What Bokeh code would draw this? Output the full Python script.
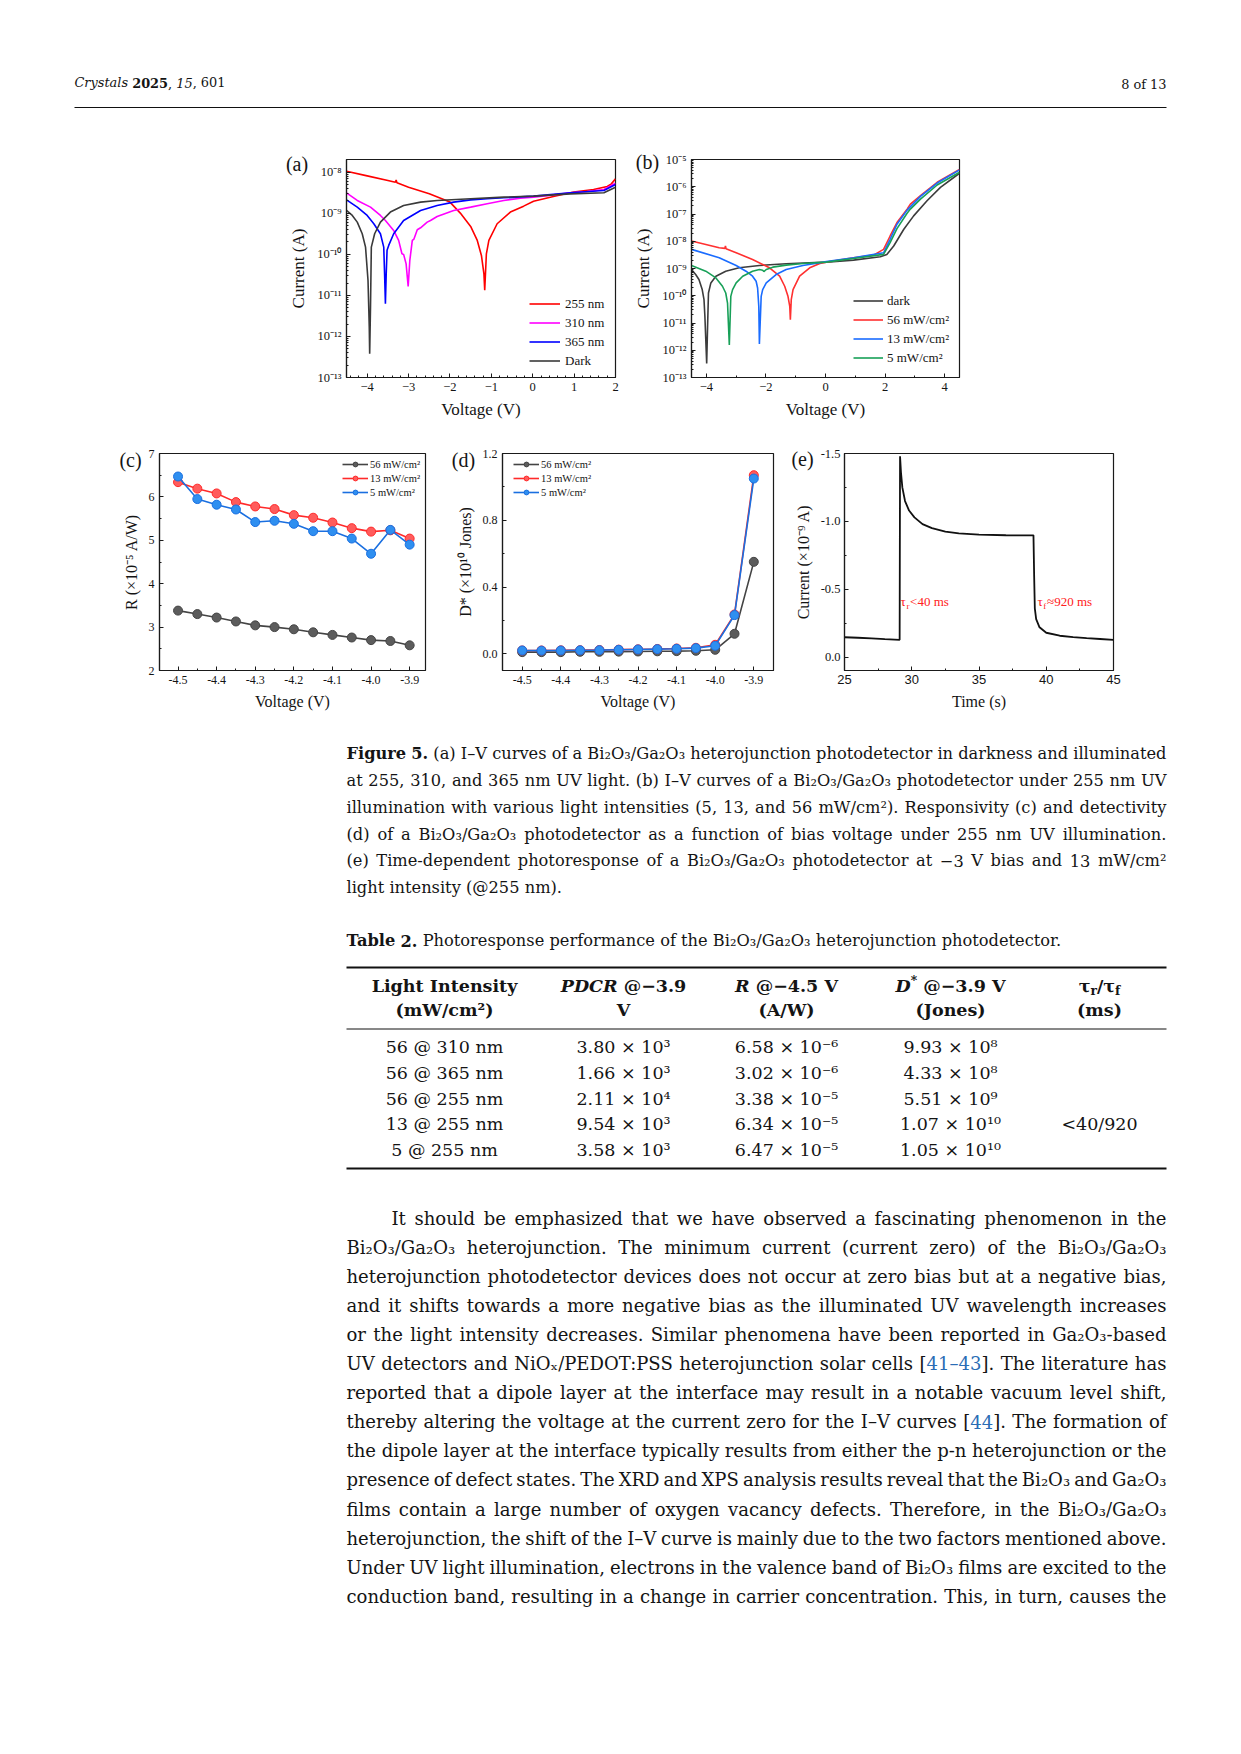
import glob, os, re, statistics
from bokeh.plotting import figure
from bokeh.models import (Range1d, FixedTicker, CustomJSTickFormatter, Legend, LegendItem,
                          Label, Spacer, ColumnDataSource, SingleIntervalTicker)
from bokeh.layouts import column, row
from bokeh.embed import file_html
from bokeh.resources import INLINE
from bokeh.core.properties import value, field

# ------------------------------------------------------------------ data
# (a) I-V curves, different wavelengths (V in volts, I in amperes)
a_v_255 = [-4.5, -4.0, -3.5, -3.32, -3.3, -3.28, -3.0, -2.5, -2.0, -1.75, -1.5, -1.34, -1.24, -1.18, -1.16,
           -1.12, -1.06, -0.86, -0.54, -0.22, 0.02, 0.5, 0.99, 1.47, 1.8, 1.9, 2.0]
a_i_255 = [1.06e-8, 8.15e-9, 6.27e-9, 5.7e-9, 6.5e-9, 5.5e-9, 4.3e-9, 2.97e-9, 1.87e-9, 1.01e-9, 4.78e-10,
           2.18e-10, 9.4e-11, 3.4e-11, 1.33e-11, 1.03e-10, 2.18e-10, 5.55e-10, 1.07e-9, 1.49e-9, 1.97e-9,
           2.56e-9, 3.3e-9, 3.8e-9, 4.5e-9, 5.2e-9, 6.9e-9]
a_v_310 = [-4.5, -4.24, -3.92, -3.68, -3.56, -3.36, -3.24, -3.16, -3.12, -3.06, -3.01, -2.97, -2.91, -2.87,
           -2.79, -2.71, -2.55, -2.47, -2.31, -1.91, -1.5, -1.1, -0.7, -0.3, 0.02, 0.5, 0.91, 1.31, 1.72, 2.0]
a_i_310 = [3.15e-9, 2.05e-9, 1.41e-9, 8.85e-10, 6.68e-10, 3.82e-10, 2.18e-10, 1.03e-10, 9.96e-11, 5.9e-11,
           1.66e-11, 7.1e-11, 2.18e-10, 2.35e-10, 3.96e-10, 4.43e-10, 6.09e-10, 6.68e-10, 8.36e-10, 1.17e-9,
           1.41e-9, 1.70e-9, 2.05e-9, 2.33e-9, 2.47e-9, 2.81e-9, 3.15e-9, 3.4e-9, 3.8e-9, 5.4e-9]
a_v_365 = [-4.5, -4.24, -4.0, -3.84, -3.68, -3.6, -3.58, -3.56, -3.54, -3.52, -3.48, -3.36, -3.12, -2.71,
           -2.31, -1.91, -1.5, -1.1, -0.7, 0.02, 0.91, 1.72, 2.0]
a_i_365 = [2.12e-9, 1.41e-9, 8.85e-10, 5.55e-10, 3.17e-10, 1.5e-10, 3.4e-11, 6.3e-12, 3.4e-11, 1.25e-10,
           1.65e-10, 3.17e-10, 6.68e-10, 1.17e-9, 1.55e-9, 1.87e-9, 2.12e-9, 2.25e-9, 2.38e-9, 2.61e-9,
           3.15e-9, 3.6e-9, 5.0e-9]
a_v_dark = [-4.5, -4.36, -4.24, -4.12, -4.04, -3.98, -3.95, -3.94, -3.92, -3.9, -3.82, -3.68, -3.44, -3.12,
            -2.71, -2.31, -1.5, -0.7, 0.02, 0.91, 1.72, 2.0]
a_i_dark = [1.17e-9, 8.85e-10, 6.09e-10, 3.17e-10, 1.5e-10, 2.3e-11, 1.7e-12, 3.8e-13, 5.2e-12, 1.5e-10,
            3.17e-10, 6.09e-10, 1.07e-9, 1.55e-9, 1.87e-9, 2.05e-9, 2.25e-9, 2.47e-9, 2.61e-9, 2.97e-9,
            3.15e-9, 4.3e-9]
a_labels = ["255 nm", "310 nm", "365 nm", "Dark"]
a_xticks = [-4, -3, -2, -1, 0, 1, 2]
a_yticks = [1e-13, 1e-12, 1e-11, 1e-10, 1e-9, 1e-8]

# (b) I-V curves, different intensities at 255 nm
b_v_dark = [-4.5, -4.36, -4.25, -4.14, -4.08, -4.05, -3.99, -3.96, -3.93, -3.85, -3.68, -3.35, -2.9, -2.22,
            -1.32, 0.03, 0.94, 1.84, 2.06, 2.29, 2.63, 2.96, 3.41, 3.86, 4.5]
b_i_dark = [9.19e-10, 6.0e-10, 3.93e-10, 1.68e-10, 7.16e-11, 1.74e-11, 3.3e-13, 7.4e-12, 1.26e-10, 2.96e-10,
            5.21e-10, 7.97e-10, 1.06e-9, 1.29e-9, 1.49e-9, 1.71e-9, 2.03e-9, 2.7e-9, 3.29e-9, 6.68e-9,
            2.75e-8, 8.55e-8, 3.06e-7, 9.5e-7, 3.13e-6]
b_v_56 = [-4.5, -3.57, -3.38, -3.36, -3.34, -3.0, -2.45, -1.88, -1.54, -1.37, -1.26, -1.2, -1.18, -1.15,
          -1.09, -0.87, -0.53, -0.19, 0.03, 0.94, 1.61, 1.95, 2.17, 2.4, 2.74, 2.85, 3.19, 3.75, 4.5]
b_i_56 = [1.02e-8, 5.8e-9, 5.47e-9, 6.68e-9, 5.3e-9, 3.79e-9, 2.15e-9, 1.06e-9, 5.21e-10, 2.23e-10, 9.5e-11,
          4.07e-11, 1.31e-11, 7.16e-11, 1.68e-10, 5.21e-10, 1.06e-9, 1.53e-9, 1.71e-9, 2.48e-9, 3.1e-9,
          5.03e-9, 1.56e-8, 4.85e-8, 1.51e-7, 2.31e-7, 4.69e-7, 1.46e-6, 4.28e-6]
b_v_13 = [-4.5, -3.57, -3.0, -2.67, -2.45, -2.33, -2.28, -2.24, -2.22, -2.16, -2.11, -1.99, -1.66, -1.32,
          -0.76, -0.19, 0.03, 0.94, 1.95, 2.17, 2.4, 2.74, 3.19, 3.75, 4.5]
b_i_13 = [5.03e-9, 2.48e-9, 1.29e-9, 7.97e-10, 5.21e-10, 3.4e-10, 1.93e-10, 4.07e-11, 1.7e-12, 9.5e-11,
          1.68e-10, 2.96e-10, 6.0e-10, 9.19e-10, 1.29e-9, 1.62e-9, 1.81e-9, 2.48e-9, 3.79e-9, 1.18e-8,
          4.22e-8, 1.39e-7, 4.43e-7, 1.37e-6, 4.15e-6]
b_v_5 = [-4.5, -4.02, -3.68, -3.46, -3.35, -3.29, -3.23, -3.18, -3.12, -3.0, -2.78, -2.45, -2.22, -2.11,
         -2.07, -1.99, -1.77, -1.32, -0.76, 0.03, 0.94, 1.95, 2.17, 2.4, 2.74, 2.85, 3.19, 3.75, 4.5]
b_i_5 = [1.29e-9, 7.97e-10, 4.52e-10, 2.23e-10, 1.26e-10, 5.4e-11, 1.56e-12, 9.5e-11, 1.68e-10, 2.96e-10,
         5.21e-10, 7.97e-10, 9.19e-10, 8.68e-10, 7.75e-10, 9.19e-10, 1.12e-9, 1.33e-9, 1.53e-9, 1.71e-9,
         2.34e-9, 3.29e-9, 8.87e-9, 2.92e-8, 1.07e-7, 1.51e-7, 3.53e-7, 1.16e-6, 3.4e-6]
b_labels = ["dark", "56 mW/cm²", "13 mW/cm²", "5 mW/cm²"]
b_xticks = [-4, -2, 0, 2, 4]
b_yticks = [1e-13, 1e-12, 1e-11, 1e-10, 1e-9, 1e-8, 1e-7, 1e-6, 1e-5]

# (c) responsivity (x1e-5 A/W) and (d) detectivity (x1e10 Jones)
cd_v = [-4.5, -4.45, -4.4, -4.35, -4.3, -4.25, -4.2, -4.15, -4.1, -4.05, -4.0, -3.95, -3.9]
c_r56 = [3.38, 3.30, 3.22, 3.13, 3.04, 3.00, 2.95, 2.88, 2.82, 2.76, 2.70, 2.68, 2.58]
c_r13 = [6.34, 6.19, 6.08, 5.88, 5.78, 5.72, 5.58, 5.52, 5.41, 5.28, 5.20, 5.23, 5.04]
c_r5 = [6.47, 5.95, 5.82, 5.71, 5.42, 5.45, 5.38, 5.21, 5.21, 5.04, 4.69, 5.24, 4.90]
d_56 = [0.010, 0.010, 0.010, 0.012, 0.012, 0.013, 0.014, 0.015, 0.016, 0.018, 0.024, 0.12, 0.551]
d_13 = [0.020, 0.020, 0.021, 0.022, 0.023, 0.025, 0.027, 0.029, 0.032, 0.036, 0.054, 0.236, 1.07]
d_5 = [0.020, 0.019, 0.020, 0.021, 0.022, 0.024, 0.026, 0.028, 0.030, 0.034, 0.048, 0.232, 1.05]
cd_labels = ["56 mW/cm²", "13 mW/cm²", "5 mW/cm²"]
cd_xticks = [-4.5, -4.4, -4.3, -4.2, -4.1, -4.0, -3.9]
c_yticks = [2, 3, 4, 5, 6, 7]
d_yticks = [0.0, 0.4, 0.8, 1.2]

# (e) time-dependent photoresponse (x1e-9 A)
e_t = [25.0, 26.0, 27.0, 28.0, 29.1, 29.13, 29.2, 29.3, 29.5, 29.8, 30.2, 30.8, 31.5, 32.5, 33.5, 35.0,
       37.0, 39.05, 39.1, 39.15, 39.25, 39.5, 40.0, 41.0, 42.0, 43.0, 44.0, 45.0]
e_i = [-0.147, -0.143, -0.138, -0.133, -0.128, -1.48, -1.36, -1.25, -1.15, -1.08, -1.03, -0.98, -0.95,
       -0.925, -0.912, -0.903, -0.898, -0.897, -0.60, -0.36, -0.28, -0.22, -0.18, -0.158, -0.148, -0.14,
       -0.134, -0.128]

# Table 2
table_intensity = ["56 @ 310 nm", "56 @ 365 nm", "56 @ 255 nm", "13 @ 255 nm", "5 @ 255 nm"]
table_pdcr = ["3.80 × 10³", "1.66 × 10³", "2.11 × 10⁴", "9.54 × 10³", "3.58 × 10³"]
table_r = ["6.58 × 10⁻⁶", "3.02 × 10⁻⁶", "3.38 × 10⁻⁵", "6.34 × 10⁻⁵", "6.47 × 10⁻⁵"]
table_d = ["9.93 × 10⁸", "4.33 × 10⁸", "5.51 × 10⁹", "1.07 × 10¹⁰", "1.05 × 10¹⁰"]
table_tau = ["", "", "", "<40/920", ""]

caption_lines = [
    "**Figure** **5.** (a) I–V curves of a Bi₂O₃/Ga₂O₃ heterojunction photodetector in darkness and illuminated",
    "at 255, 310, and 365 nm UV light. (b) I–V curves of a Bi₂O₃/Ga₂O₃ photodetector under 255 nm UV",
    "illumination with various light intensities (5, 13, and 56 mW/cm²). Responsivity (c) and detectivity",
    "(d) of a Bi₂O₃/Ga₂O₃ photodetector as a function of bias voltage under 255 nm UV illumination.",
    "(e) Time-dependent photoresponse of a Bi₂O₃/Ga₂O₃ photodetector at −3 V bias and 13 mW/cm²",
    "light intensity (@255 nm).",
]
table_caption = "**Table** **2.** Photoresponse performance of the Bi₂O₃/Ga₂O₃ heterojunction photodetector."
body_lines = [
    "It should be emphasized that we have observed a fascinating phenomenon in the",
    "Bi₂O₃/Ga₂O₃ heterojunction. The minimum current (current zero) of the Bi₂O₃/Ga₂O₃",
    "heterojunction photodetector devices does not occur at zero bias but at a negative bias,",
    "and it shifts towards a more negative bias as the illuminated UV wavelength increases",
    "or the light intensity decreases. Similar phenomena have been reported in Ga₂O₃-based",
    "UV detectors and NiOₓ/PEDOT:PSS heterojunction solar cells [@@41–43@@]. The literature has",
    "reported that a dipole layer at the interface may result in a notable vacuum level shift,",
    "thereby altering the voltage at the current zero for the I–V curves [@@44@@]. The formation of",
    "the dipole layer at the interface typically results from either the p-n heterojunction or the",
    "presence of defect states. The XRD and XPS analysis results reveal that the Bi₂O₃ and Ga₂O₃",
    "films contain a large number of oxygen vacancy defects. Therefore, in the Bi₂O₃/Ga₂O₃",
    "heterojunction, the shift of the I–V curve is mainly due to the two factors mentioned above.",
    "Under UV light illumination, electrons in the valence band of Bi₂O₃ films are excited to the",
    "conduction band, resulting in a change in carrier concentration. This, in turn, causes the",
]

# ------------------------------------------------------------------ styles
INK = "#141414"
LINK = "#2a6db5"
SERIF = "Liberation Serif"
PAGE_FONT = "DejaVu Serif"

# ------------------------------------------------------------------ text measurement
try:
    from PIL import ImageFont
except Exception:
    ImageFont = None

FONT_FILES = {"normal": "DejaVuSerif.ttf", "bold": "DejaVuSerif-Bold.ttf",
              "italic": "DejaVuSerif-Italic.ttf", "bold italic": "DejaVuSerif-BoldItalic.ttf",
              "lib": "LiberationSerif-Regular.ttf"}
_fonts = {}


def _find(name):
    for d in ["/usr/share/fonts", "/usr/local/share/fonts", os.path.expanduser("~/.fonts"),
              os.path.expanduser("~/.local/share/fonts")]:
        try:
            hits = glob.glob(os.path.join(d, "**", name), recursive=True)
        except Exception:
            hits = []
        if hits:
            return hits[0]
    return None


def measure(text, style, size):
    if not text:
        return 0.0
    if ImageFont is not None:
        if style not in _fonts:
            path = _find(FONT_FILES[style])
            try:
                _fonts[style] = ImageFont.truetype(path, 100) if path else None
            except Exception:
                _fonts[style] = None
        f = _fonts[style]
        if f is not None:
            try:
                return f.getlength(text) * size / 100.0
            except Exception:
                pass
    k = 0.5 if style == "lib" else 0.56
    return len(text) * k * size * (1.08 if "bold" in style else 1.0)


class Sink:
    def __init__(self):
        self.d = dict(x=[], y=[], text=[], style=[], color=[], size=[])

    def add(self, x, y, text, style, color, size):
        self.d["x"].append(x)
        self.d["y"].append(y)
        self.d["text"].append(text)
        self.d["style"].append(style)
        self.d["color"].append(color)
        self.d["size"].append("%.2fpx" % size)


def seg(text, style="normal", color=INK, scale=1.0, dy=0.0):
    return (text, style, color, scale, dy)


def parse_word(word):
    out = []
    for part in re.split(r"(\*\*.+?\*\*|@@.+?@@)", word):
        if not part:
            continue
        if part.startswith("**"):
            out.append(seg(part[2:-2], "bold"))
        elif part.startswith("@@"):
            out.append(seg(part[2:-2], "normal", LINK))
        else:
            out.append(seg(part))
    return out


def seg_width(segs, fs):
    return sum(measure(s[0], s[1], fs * s[3]) for s in segs)


def draw_segments(sink, segs, x, y, fs):
    # leading / trailing spaces are turned into advances (SVG text trims them)
    for (t, st, col, sc, dy) in segs:
        core = t.lstrip(" ")
        x += measure(t[:len(t) - len(core)], st, fs * sc)
        shown = core.rstrip(" ")
        if shown:
            sink.add(x, y + dy * fs, shown, st, col, fs * sc)
        x += measure(core, st, fs * sc)
    return x


def natural_width(line, fs):
    words = [parse_word(w) for w in line.split(" ") if w]
    return sum(seg_width(w, fs) for w in words) + (len(words) - 1) * measure(" ", "normal", fs)


def set_line(sink, line, x0, x1, y, fs, justify):
    words = [parse_word(w) for w in line.split(" ") if w]
    widths = [seg_width(w, fs) for w in words]
    sp = measure(" ", "normal", fs)
    if justify and len(words) > 1:
        gap = (x1 - x0 - sum(widths)) / (len(words) - 1)
    else:
        gap = sp
    x = x0
    for w, wd in zip(words, widths):
        draw_segments(sink, w, x, y, fs)
        x += wd + gap


def fit_size(lines_w, lo, hi):
    ratios = [w / natural_width(l, 1.0) for l, w in lines_w]
    return max(lo, min(hi, statistics.median(ratios) * 0.985))


def canvas(w, h, x0, y0):
    p = figure(width=w, height=h, x_range=Range1d(x0, x0 + w), y_range=Range1d(y0 + h, y0),
               output_backend="svg", toolbar_location=None, x_axis_location=None, y_axis_location=None,
               min_border_left=0, min_border_right=0, min_border_top=0, min_border_bottom=0)
    p.grid.visible = False
    p.outline_line_color = None
    p.background_fill_color = "white"
    p.border_fill_color = "white"
    return p


def flush(p, sink):
    src = ColumnDataSource(sink.d)
    p.text(x="x", y="y", text="text", source=src, text_font=value(PAGE_FONT),
           text_font_style=field("style"), text_color=field("color"), text_font_size=field("size"),
           text_align="left", text_baseline="middle")


# ------------------------------------------------------------------ chart helpers
LOG_FMT = CustomJSTickFormatter(code="""
const sup = {'-':'\u207b','0':'\u2070','1':'\u00b9','2':'\u00b2','3':'\u00b3','4':'\u2074','5':'\u2075','6':'\u2076','7':'\u2077','8':'\u2078','9':'\u2079'};
const e = Math.round(Math.log10(tick));
return '10' + String(e).split('').map(c => sup[c]).join('');
""")
MINUS_FMT = CustomJSTickFormatter(code="return tick < 0 ? '\u2212' + Math.abs(tick) : String(tick);")


def fixed_fmt(n):
    return CustomJSTickFormatter(code="return tick.toFixed(%d);" % n)


def minor_between(majors, n_sub, lo, hi):
    """minor tick positions: n_sub subdivisions between consecutive majors, extended to the range"""
    step = (majors[1] - majors[0]) / n_sub
    out = []
    k0 = int((lo - majors[0]) / step) - 1
    k1 = int((hi - majors[0]) / step) + 1
    for k in range(k0, k1 + 1):
        v = round(majors[0] + k * step, 6)
        if lo <= v <= hi and k % n_sub != 0:
            out.append(v)
    return out


def log_minor(lo_exp, hi_exp, top):
    return [m * 10.0 ** e for e in range(lo_exp, hi_exp + 1) for m in range(2, 10) if m * 10.0 ** e <= top]


def chart(w, h, ml, mr, mt, mb, xr, yr, ylog=False):
    p = figure(width=w, height=h, x_range=xr, y_range=yr, y_axis_type=("log" if ylog else "linear"),
               output_backend="svg", toolbar_location=None,
               min_border_left=ml, min_border_right=mr, min_border_top=mt, min_border_bottom=mb)
    p.grid.visible = False
    p.outline_line_color = "#1a1a1a"
    p.outline_line_width = 1.2
    p.background_fill_color = "white"
    p.border_fill_color = "white"
    for ax in p.axis:
        ax.axis_line_color = "#1a1a1a"
        ax.axis_line_width = 1.2
        ax.major_tick_line_color = "#1a1a1a"
        ax.major_tick_in = 4
        ax.major_tick_out = 0
        ax.minor_tick_line_color = "#1a1a1a"
        ax.minor_tick_in = 2
        ax.minor_tick_out = 0
        ax.major_label_text_font = SERIF
        ax.major_label_text_color = INK
        ax.major_label_text_font_size = "12.5px"
        ax.axis_label_text_font = SERIF
        ax.axis_label_text_font_style = "normal"
        ax.axis_label_text_color = INK
        ax.axis_label_text_font_size = "17px"
        ax.major_label_standoff = 5
        ax.axis_label_standoff = 6
    return p


def panel_label(p, text, dx, dy_top):
    # panel letter as the figure title, pulled left of the frame and down to its top edge
    w = measure(text, "lib", 20)
    t = p.title
    t.text = text
    t.align = "left"
    t.vertical_align = "bottom"
    t.offset = float(round(dx - w / 2.0, 1))
    t.standoff = int(round(-2 * (dy_top + 9.3)))
    t.text_font = SERIF
    t.text_font_size = "20px"
    t.text_font_style = "normal"
    t.text_color = INK


def add_legend(p, items, loc, gw, gh, font_px, spacing, standoff):
    lg = Legend(items=[LegendItem(label=l, renderers=r) for l, r in items], location=loc,
                glyph_width=gw, glyph_height=gh, label_height=gh, label_standoff=standoff,
                spacing=spacing, padding=0, margin=0, border_line_color=None,
                background_fill_alpha=0, label_text_font=SERIF,
                label_text_font_size="%gpx" % font_px, label_text_color=INK)
    p.add_layout(lg)


# ------------------------------------------------------------------ (a)
fa = chart(370, 297, 96, 5, 24, 55, Range1d(-4.5, 2.0), Range1d(1e-13, 2.04e-8), ylog=True)
fa.xaxis.ticker = FixedTicker(ticks=a_xticks, minor_ticks=minor_between(a_xticks, 5, -4.5, 2.0))
fa.xaxis.formatter = MINUS_FMT
fa.yaxis.ticker = FixedTicker(ticks=a_yticks, minor_ticks=log_minor(-13, -8, 2.04e-8))
fa.yaxis.formatter = LOG_FMT
fa.xaxis.axis_label = "Voltage (V)"
fa.yaxis.axis_label = "Current (A)"
a_cols = ["#ff0000", "#ff00ff", "#0000ff", "#3a3a3a"]
ra = []
for vv, ii, cc in zip([a_v_255, a_v_310, a_v_365, a_v_dark], [a_i_255, a_i_310, a_i_365, a_i_dark], a_cols):
    ra.append(fa.line(vv, ii, line_color=cc, line_width=1.6))
add_legend(fa, [(l, [r]) for l, r in zip(a_labels, ra)], (183, 8.5), 31, 15, 13, 3, 5)
panel_label(fa, "(a)", -49.5, 5.5)

# ------------------------------------------------------------------ (b)
fb = chart(350, 297, 71, 11, 24, 55, Range1d(-4.5, 4.5), Range1d(1e-13, 1e-5), ylog=True)
fb.xaxis.ticker = FixedTicker(ticks=b_xticks, minor_ticks=minor_between(b_xticks, 2, -4.5, 4.5))
fb.xaxis.formatter = MINUS_FMT
fb.yaxis.ticker = FixedTicker(ticks=b_yticks, minor_ticks=log_minor(-13, -6, 1e-5))
fb.yaxis.formatter = LOG_FMT
fb.xaxis.axis_label = "Voltage (V)"
fb.yaxis.axis_label = "Current (A)"
b_cols = ["#3c3c3c", "#ff3030", "#1a6cff", "#18a058"]
rb = []
for vv, ii, cc in zip([b_v_dark, b_v_56, b_v_13, b_v_5], [b_i_dark, b_i_56, b_i_13, b_i_5], b_cols):
    rb.append(fb.line(vv, ii, line_color=cc, line_width=1.6))
add_legend(fb, [(l, [r]) for l, r in zip(b_labels, rb)], (162, 11.5), 30, 15, 13, 3, 4)
panel_label(fb, "(b)", -44, 4)

# ------------------------------------------------------------------ (c) and (d)
cd_line = ["#444444", "#ff2a2a", "#1a6fe0"]
cd_fill = ["#5c5c5c", "#ff5c5c", "#2f8ff0"]


def ball_series(p, ys_list):
    rs = []
    for ys, lc, fc in zip(ys_list, cd_line, cd_fill):
        rl = p.line(cd_v, ys, line_color=lc, line_width=1.6)
        rs_ = p.scatter(cd_v, ys, marker="circle", size=9, fill_color=fc, line_color=lc, line_width=1)
        rs.append([rl, rs_])
    return rs


fc_ = chart(340, 293, 59, 15, 21, 55, Range1d(-4.548, -3.859), Range1d(2, 7))
fc_.xaxis.ticker = FixedTicker(ticks=cd_xticks, minor_ticks=minor_between(cd_xticks, 2, -4.548, -3.859))
fc_.xaxis.formatter = fixed_fmt(1)
fc_.yaxis.ticker = FixedTicker(ticks=c_yticks, minor_ticks=minor_between(c_yticks, 2, 2, 7))
fc_.yaxis.formatter = fixed_fmt(0)
fc_.xaxis.axis_label = "Voltage (V)"
fc_.yaxis.axis_label = "R (×10⁻⁵ A/W)"
for ax in fc_.axis:
    ax.major_label_text_font_size = "12px"
    ax.axis_label_text_font_size = "16px"
rc = ball_series(fc_, [c_r56, c_r13, c_r5])
add_legend(fc_, list(zip(cd_labels, rc)), (183, 172), 26, 12, 10.5, 2, 2)
panel_label(fc_, "(c)", -29, 8)

fd = chart(345, 293, 62, 12, 21, 55, Range1d(-4.551, -3.849), Range1d(-0.1, 1.2))
fd.xaxis.ticker = FixedTicker(ticks=cd_xticks, minor_ticks=minor_between(cd_xticks, 2, -4.551, -3.849))
fd.xaxis.formatter = fixed_fmt(1)
fd.yaxis.ticker = FixedTicker(ticks=d_yticks, minor_ticks=minor_between(d_yticks, 2, -0.1, 1.2))
fd.yaxis.formatter = fixed_fmt(1)
fd.xaxis.axis_label = "Voltage (V)"
fd.yaxis.axis_label = "D* (×10¹⁰ Jones)"
for ax in fd.axis:
    ax.major_label_text_font_size = "12px"
    ax.axis_label_text_font_size = "16px"
rd = ball_series(fd, [d_56, d_13, d_5])
add_legend(fd, list(zip(cd_labels, rd)), (11, 172), 26, 12, 10.5, 2, 2)
panel_label(fd, "(d)", -39, 8)

# ------------------------------------------------------------------ (e)
fe = chart(345, 293, 59, 17, 21, 55, Range1d(25, 45), Range1d(0.098, -1.5))
fe.xaxis.ticker = SingleIntervalTicker(interval=5, num_minor_ticks=2)
fe.yaxis.ticker = SingleIntervalTicker(interval=0.5, num_minor_ticks=2)
fe.yaxis.formatter = fixed_fmt(1)
fe.xaxis.axis_label = "Time (s)"
fe.yaxis.axis_label = "Current (×10⁻⁹ A)"
for ax in fe.axis:
    ax.axis_label_text_font_size = "16px"
    ax.major_label_text_font_size = "12.5px"
    ax.major_label_standoff = 4
fe.xaxis.major_label_text_font = "Liberation Sans"
fe.xaxis.major_label_text_font_size = "13px"
fe.line(e_t, e_i, line_color="#111111", line_width=1.8)
TAU_RED = "#ff2020"
for (tx, ty, sub, rest) in [(29.17, -0.41, "r", "<40 ms"), (39.35, -0.41, "f", "≈920 ms")]:
    fe.add_layout(Label(x=tx, y=ty, text="τ", text_color=TAU_RED, text_font=SERIF,
                        text_font_size="13px", text_baseline="middle"))
    fe.add_layout(Label(x=tx, y=ty, x_offset=5.8, y_offset=-4, text=sub, text_color=TAU_RED,
                        text_font=SERIF, text_font_size="9px", text_baseline="middle"))
    fe.add_layout(Label(x=tx, y=ty, x_offset=9.5, text=rest, text_color=TAU_RED, text_font=SERIF,
                        text_font_size="13px", text_baseline="middle"))
panel_label(fe, "(e)", -42, 7)

# ------------------------------------------------------------------ header
PAGE_W = 1236
hdr = canvas(PAGE_W, 135, 0, 0)
hs = Sink()
hdr_segs = [seg("Crystals", "italic"), seg(" "), seg("2025", "bold"), seg(", "), seg("15", "italic"),
            seg(", 601")]
hdr_fs = max(12.0, min(17.0, 151.0 / seg_width(hdr_segs, 1.0)))
draw_segments(hs, hdr_segs, 74, 82, hdr_fs)
draw_segments(hs, [seg("8 of 13")], 1166 - measure("8 of 13", "normal", hdr_fs), 84, hdr_fs)
flush(hdr, hs)
hdr.segment(x0=[74], y0=[107], x1=[1166], y1=[107], line_color="#111111", line_width=1)

# ------------------------------------------------------------------ caption, table, body
body = canvas(PAGE_W, 1019, 0, 725)
bs = Sink()
X0, X1 = 346, 1166

cap_fs = fit_size([(l, X1 - X0) for l in caption_lines[:5]], 14.0, 19.0)
cap_y = [752.5, 779.5, 806.5, 833.5, 860, 886.5]
for i, (line, y) in enumerate(zip(caption_lines, cap_y)):
    set_line(bs, line, X0, X1, y, cap_fs, justify=(i < len(caption_lines) - 1))

set_line(bs, table_caption, X0, X1, 940, cap_fs, justify=False)

body_fs = fit_size([(l, (X1 - 391) if i == 0 else (X1 - X0)) for i, l in enumerate(body_lines)], 16.0, 21.0)
tab_fs = body_fs * 0.97
col_cx = [444, 623, 786, 950, 1099]
head1 = [
    [seg("Light Intensity", "bold")],
    [seg("PDCR", "bold italic"), seg(" @−3.9", "bold")],
    [seg("R", "bold italic"), seg(" @−4.5 V", "bold")],
    [seg("D", "bold italic"), seg("*", "bold", scale=0.7, dy=-0.3), seg(" @−3.9 V", "bold")],
    [seg("τ", "bold"), seg("r", "bold", scale=0.7, dy=0.3), seg("/τ", "bold"), seg("f", "bold", scale=0.7, dy=0.3)],
]
head2 = [[seg("(mW/cm²)", "bold")], [seg("V", "bold")], [seg("(A/W)", "bold")], [seg("(Jones)", "bold")],
         [seg("(ms)", "bold")]]
for cx, s1, s2 in zip(col_cx, head1, head2):
    draw_segments(bs, s1, cx - seg_width(s1, tab_fs) / 2, 985, tab_fs)
    draw_segments(bs, s2, cx - seg_width(s2, tab_fs) / 2, 1009, tab_fs)
row_y = [1046.5, 1072.5, 1098, 1123.5, 1149.5]
for j, y in enumerate(row_y):
    for cx, colvals in zip(col_cx, [table_intensity, table_pdcr, table_r, table_d, table_tau]):
        t = colvals[j]
        if t:
            draw_segments(bs, [seg(t)], cx - measure(t, "normal", tab_fs) / 2, y, tab_fs)
body.segment(x0=[X0, X0, X0], y0=[967, 1028.5, 1168], x1=[X1, X1, X1], y1=[967, 1028.5, 1168],
             line_color="#111111", line_width=[2, 1, 2])

for i, line in enumerate(body_lines):
    y = 1218 + 29.05 * i
    set_line(bs, line, 391 if i == 0 else X0, X1, y, body_fs, justify=True)
flush(body, bs)

# ------------------------------------------------------------------ page
layout = column(
    hdr,
    row(Spacer(width=250, height=297), fa, fb),
    row(Spacer(width=100, height=293), fc_, fd, fe),
    body,
)
html = file_html(layout, INLINE, title="Crystals 2025, 15, 601 - page 8")
with open("out.html", "w", encoding="utf-8") as fh:
    fh.write(html)
